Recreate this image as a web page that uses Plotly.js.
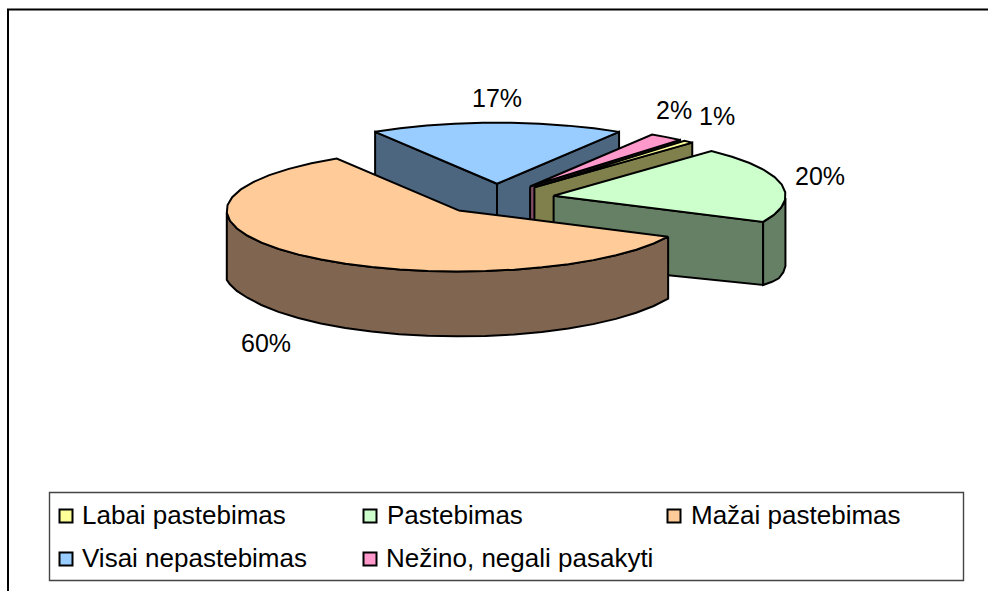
<!DOCTYPE html>
<html><head><meta charset="utf-8">
<script src="https://cdn.plot.ly/plotly-3.0.1.min.js"></script>
<style>html,body{margin:0;padding:0;background:#fff}#c{width:988px;height:591px}</style>
</head><body><div id="c"></div>
<script>
var categories = ["Labai pastebimas","Pastebimas","Mažai pastebimas","Visai nepastebimas","Nežino, negali pasakyti"];
var values = [0.7,20,60,17,2.3];
var pctLabels = ["1%","20%","60%","17%","2%"];
var topColors = ["#FFFF99","#CCFFCC","#FFCC99","#99CCFF","#FF99CC"];
var wallColors = ["#80804D","#668066","#806650","#4D6680","#804D66"];
var labelX = [717,820,266,497,674];
var labelY = [116,176,343,98,110];
var legendX = [66,370,674,66,370];
var legendY = [516,516,516,559,559];
var legendTextX = [80,385,689,80,384];
var drawOrder = [3,4,0,1,2];

var firstAngle = 38.9, cx = 497, cy = 199, S = 232, K = 61, explode = 0.25, step = 7.5, lw = 2, skew = 2.2;
var depthG = [-1.2,-0.62,-0.38,-0.19,0.05,1.1];
var depthD = [65,62,63,68,68,45];
var total = values.reduce(function(a,b){return a+b;},0);
var rad = Math.PI/180;
function depth(y){
  if(y<=depthG[0]) return depthD[0];
  for(var j=1;j<depthG.length;j++){ if(y<=depthG[j]) return depthD[j-1]+(depthD[j]-depthD[j-1])*(y-depthG[j-1])/(depthG[j]-depthG[j-1]); }
  return depthD[depthD.length-1]+(y-1.1)*(-22);
}
function ground(i,r,a,span){
  var bis=(span[0]+span[1])/2, v=a+skew*Math.sin(a*rad); // view angle, slightly widened by the camera
  return [r*Math.sin(v*rad)+explode*Math.sin(bis*rad), r*Math.cos(v*rad)+explode*Math.cos(bis*rad)];
}
function topPt(g){ return [cx+S*g[0], cy-K*g[1]]; }
function botPt(g){ var p=topPt(g); return [p[0], p[1]+depth(g[1])]; }
function arcAngles(a,b){ var o=[],n=Math.max(1,Math.ceil((b-a)/step)); for(var j=0;j<=n;j++) o.push(a+(b-a)*j/n); return o; }
function poly(pts,fill,name){
  return {type:"scatter",mode:"lines",x:pts.map(function(p){return p[0];}),y:pts.map(function(p){return p[1];}),
    fill:"toself",fillcolor:fill,line:{color:"#000",width:lw,shape:"linear"},hoverinfo:"skip",showlegend:false,name:name};
}
var spans=[],acc=firstAngle;
values.forEach(function(v){ var s=[acc,acc+v/total*360]; spans.push(s); acc=s[1]; });

var traces=[];
drawOrder.forEach(function(i){
  var sp=spans[i], a0=sp[0], a1=sp[1], name=categories[i];
  var apex=ground(i,0,0,sp);
  function face(a){ var g=ground(i,1,a,sp);
    traces.push(poly([topPt(apex),topPt(g),botPt(g),botPt(apex),topPt(apex)],wallColors[i],name)); }
  if(Math.sin(a0*rad)<0) face(a0);
  if(Math.sin(a1*rad)>0) face(a1);
  // outer wall: only the part of the rim that faces the viewer
  var f0=Math.max(a0,90), f1=Math.min(a1,270);
  if(f1>f0){
    var angs=arcAngles(f0,f1), gs=angs.map(function(a){return ground(i,1,a,sp);});
    var pts=gs.map(topPt).concat(gs.slice().reverse().map(botPt)); pts.push(pts[0]);
    traces.push(poly(pts,wallColors[i],name));
  }
  var top=[topPt(apex)];
  arcAngles(a0,a1).forEach(function(a){ top.push(topPt(ground(i,1,a,sp))); });
  top.push(top[0]);
  traces.push(poly(top,topColors[i],name));
});
traces.push({type:"scatter",mode:"markers",x:legendX,y:legendY,hoverinfo:"skip",showlegend:false,
  marker:{symbol:"square",size:13,color:topColors,line:{color:"#000",width:2}}});

var font={family:"'Liberation Sans',Arial,sans-serif",size:25,color:"#000"};
var legendFont={family:"'Liberation Sans',Arial,sans-serif",size:26,color:"#000"};
var annotations=[];
pctLabels.forEach(function(t,i){
  annotations.push({x:labelX[i],y:labelY[i],xref:"x",yref:"y",text:t,showarrow:false,xanchor:"center",yanchor:"middle",font:font});
});
categories.forEach(function(t,i){
  annotations.push({x:legendTextX[i],y:legendY[i]-1,xref:"x",yref:"y",text:t,showarrow:false,xanchor:"left",yanchor:"middle",font:legendFont});
});
var shapes=[
  {type:"path",xref:"x",yref:"y",path:"M8,591 L8,9.5 L988,9.5",line:{color:"#000",width:2},layer:"below"},
  {type:"rect",xref:"x",yref:"y",x0:49.5,y0:492.5,x1:963.5,y1:580.5,line:{color:"#444",width:1.4},fillcolor:"#fff",layer:"below"}
];
var layout={width:988,height:591,margin:{l:0,r:0,t:0,b:0},paper_bgcolor:"#fff",plot_bgcolor:"#fff",showlegend:false,
  xaxis:{range:[0,988],visible:false,fixedrange:true},
  yaxis:{range:[591,0],visible:false,fixedrange:true},
  shapes:shapes,annotations:annotations};
Plotly.newPlot("c",traces,layout,{displayModeBar:false,staticPlot:true});
</script></body></html>
